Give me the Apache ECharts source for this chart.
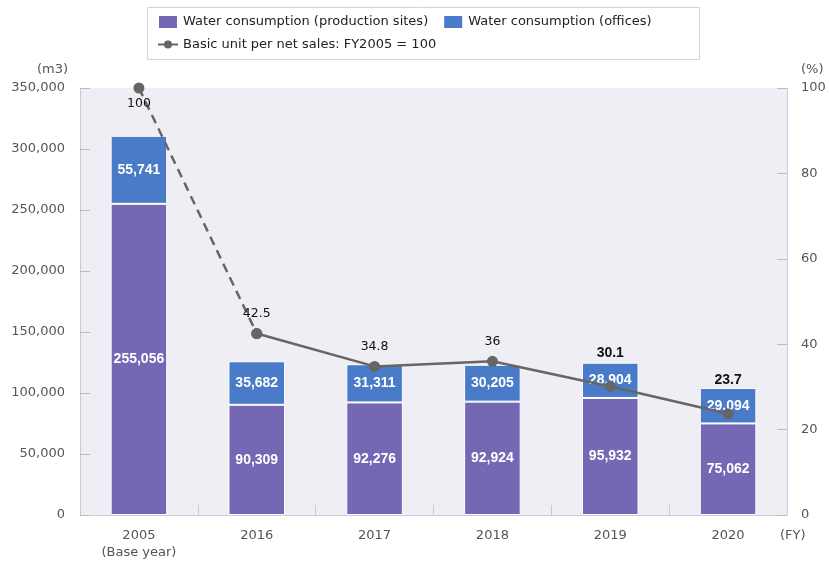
<!DOCTYPE html>
<html><head><meta charset="utf-8">
<script src="https://cdn.jsdelivr.net/npm/echarts@6/dist/echarts.min.js"></script>
<style>html,body{margin:0;padding:0;background:#fff}#c{width:829px;height:561px}</style>
</head><body><div id="c"></div>
<script>
const categories = ['2005\n(Base year)', '2016', '2017', '2018', '2019', '2020'];
const production = [255056, 90309, 92276, 92924, 95932, 75062];
const offices = [55741, 35682, 31311, 30205, 28904, 29094];
const basicUnit = [100, 42.5, 34.8, 36, 30.1, 23.7];
const leftTicks = [0, 50000, 100000, 150000, 200000, 250000, 300000, 350000];
const rightTicks = [0, 20, 40, 60, 80, 100];

const nameProd = 'Water consumption (production sites)';
const nameOff = 'Water consumption (offices)';
const nameLine = 'Basic unit per net sales: FY2005 = 100';
const FONT = 'DejaVu Sans';
const BFONT = 'Liberation Sans';

// line styling: 2005->2016 dashed, then solid
const solidData = basicUnit.map((v, i) => {
  if (i < 1) return null;
  const lbl = { show: true, position: 'top', distance: 8, color: '#111', fontSize: 12.5, fontFamily: FONT };
  if (i >= 4) { lbl.distance = 21; lbl.fontWeight = 'bold'; lbl.fontSize = 14; lbl.fontFamily = BFONT; }
  return { value: v, label: lbl };
});
const dashedItems = basicUnit.map((v, i) => {
  if (i > 1) return null;
  if (i === 0) return { value: v, label: { show: true, position: 'bottom', distance: 4, color: '#111', fontSize: 12.5, fontFamily: FONT } };
  return { value: v, label: { show: false } };
});

const chart = echarts.init(document.getElementById('c'), null, { renderer: 'canvas' });
chart.setOption({
  animation: false,
  textStyle: { fontFamily: FONT },
  grid: { left: 80, right: 42, top: 88, bottom: 45, show: true, backgroundColor: '#eeeef4', borderWidth: 0 },
  graphic: [{ type: 'rect', left: 145, top: 5, shape: { width: 552, height: 52 }, style: { fill: 'none', stroke: '#d4d4d4', lineWidth: 1 } }],
  legend: [
    { data: [nameProd, nameOff], left: 152, top: 9, itemWidth: 20, itemHeight: 14, itemGap: 14, icon: 'rect',
      textStyle: { fontSize: 13, color: '#222', fontFamily: FONT } },
    { data: [nameLine], left: 152, top: 33, itemWidth: 20, itemHeight: 10, itemGap: 6,
      textStyle: { fontSize: 13, color: '#222', fontFamily: FONT } }
  ],
  xAxis: {
    type: 'category', data: categories,
    axisLine: { lineStyle: { color: '#c6ccd8' } },
    axisTick: { show: true, inside: true, length: 10, lineStyle: { color: '#c6ccd8' } },
    axisLabel: { color: '#555', fontSize: 13, margin: 12, lineHeight: 17, fontFamily: FONT },
    name: '(FY)', nameLocation: 'end', nameGap: -7,
    nameTextStyle: { color: '#555', fontSize: 13, verticalAlign: 'top', padding: [14, 0, 0, 0], fontFamily: FONT }
  },
  yAxis: [
    { type: 'value', min: 0, max: 350000, interval: 50000,
      name: '(m3)', nameLocation: 'end', nameGap: 12,
      nameTextStyle: { color: '#555', fontSize: 13, align: 'right', padding: [0, 12, 0, 0], fontFamily: FONT },
      axisLine: { show: true, lineStyle: { color: '#c6ccd8' } },
      axisTick: { show: true, inside: true, length: 10, lineStyle: { color: '#bbb' } },
      splitLine: { show: false },
      axisLabel: { color: '#555', fontSize: 13, margin: 15, fontFamily: FONT,
        formatter: v => leftTicks.includes(v) ? v.toLocaleString('en-US') : '' } },
    { type: 'value', min: 0, max: 100, interval: 20, position: 'right',
      name: '(%)', nameLocation: 'end', nameGap: 12,
      nameTextStyle: { color: '#555', fontSize: 13, align: 'left', padding: [0, 0, 0, 14], fontFamily: FONT },
      axisLine: { show: true, lineStyle: { color: '#c6ccd8' } },
      axisTick: { show: true, inside: true, length: 10, lineStyle: { color: '#bbb' } },
      splitLine: { show: false },
      axisLabel: { color: '#555', fontSize: 13, margin: 14, fontFamily: FONT,
        formatter: v => rightTicks.includes(v) ? String(v) : '' } }
  ],
  series: [
    { name: nameProd, type: 'bar', stack: 'w', data: production, barWidth: '48%',
      itemStyle: { color: '#7467b4', borderColor: '#fff', borderWidth: 1 },
      label: { show: true, position: 'inside', color: '#fff', fontWeight: 'bold', fontSize: 14, fontFamily: BFONT,
        formatter: p => p.value.toLocaleString('en-US') } },
    { name: nameOff, type: 'bar', stack: 'w', data: offices, barWidth: '48%',
      itemStyle: { color: '#4a7bc8', borderColor: '#fff', borderWidth: 1 },
      label: { show: true, position: 'inside', color: '#fff', fontWeight: 'bold', fontSize: 14, fontFamily: BFONT,
        formatter: p => p.value.toLocaleString('en-US') } },
    { name: nameLine + ' ', type: 'line', yAxisIndex: 1, data: dashedItems, connectNulls: false,
      symbol: 'circle', symbolSize: 11, z: 5,
      lineStyle: { color: '#666', width: 2.5, type: [9, 6] }, itemStyle: { color: '#666' } },
    { name: nameLine, type: 'line', yAxisIndex: 1, data: solidData, connectNulls: false,
      symbol: 'circle', symbolSize: 11, z: 5,
      lineStyle: { color: '#666', width: 2.5 }, itemStyle: { color: '#666' } }
  ]
});
</script></body></html>
